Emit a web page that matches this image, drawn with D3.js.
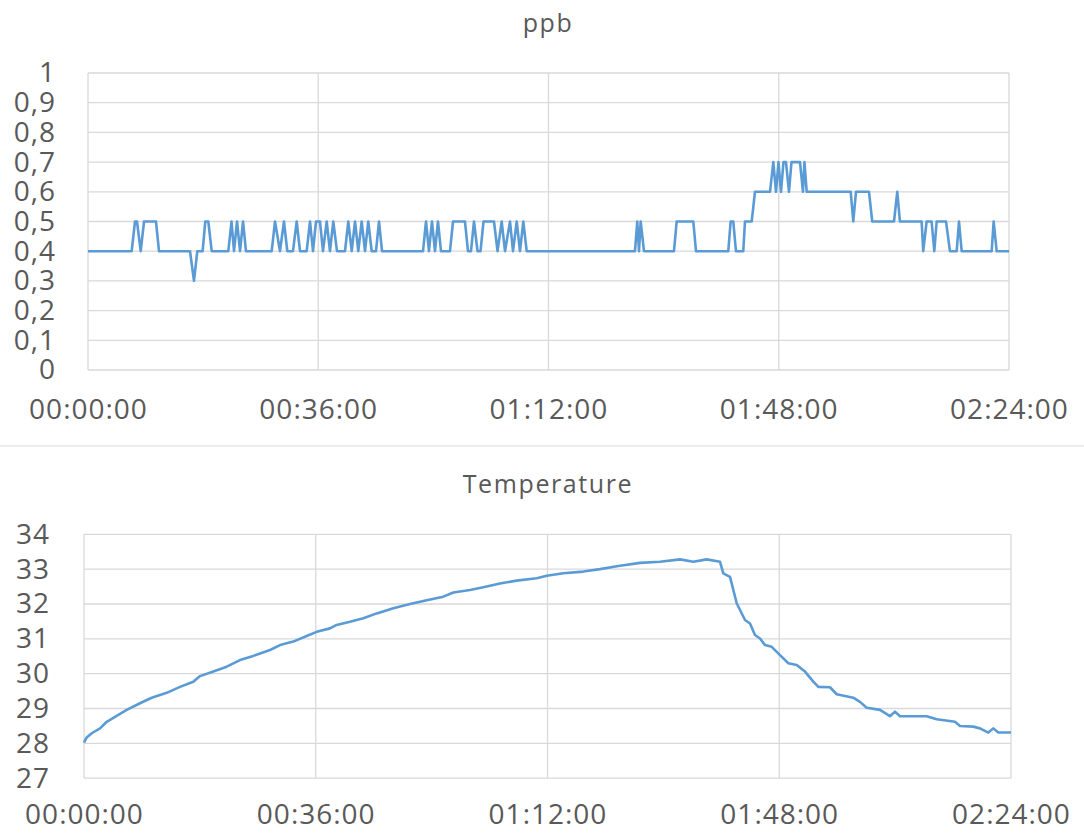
<!DOCTYPE html>
<html><head><meta charset="utf-8">
<script src="https://cdn.jsdelivr.net/npm/d3@7"></script>
<style>
body{margin:0;background:#fff;}
svg text{font-family:'Open Sans',sans-serif;fill:#595959;}
</style>
</head><body>
<svg id="c" width="1084" height="837"></svg>
<script>
// ---- data ----
const timeTicks = [0, 36, 72, 108, 144];               // minutes
const timeTickLabels = ["00:00:00", "00:36:00", "01:12:00", "01:48:00", "02:24:00"];
const ppbTicks = [0, 0.1, 0.2, 0.3, 0.4, 0.5, 0.6, 0.7, 0.8, 0.9, 1];
const tempTicks = [27, 28, 29, 30, 31, 32, 33, 34];

const ppbMinutes = [0, 6.83, 7.35, 7.66, 8.24, 8.76, 10.63, 11.10, 15.95, 16.57, 17.09, 17.92, 18.34, 18.81, 19.34,
  21.94, 22.44, 22.83, 23.30, 23.77, 24.24, 24.70, 28.72, 29.24, 30.02, 30.64, 31.16, 32.05, 32.63, 33.15,
  34.19, 34.71, 35.18, 35.65, 36.27, 36.74, 37.32, 37.83, 38.35, 38.93, 40.18, 40.70, 41.23, 41.75, 42.26,
  42.79, 43.31, 43.82, 44.35, 45.03, 45.50, 45.97, 52.38, 52.85, 53.31, 53.78, 54.25, 54.72, 55.19, 56.60,
  57.07, 58.94, 59.41, 59.88, 60.35, 60.90, 61.37, 61.84, 63.48, 64.03, 64.68, 65.20, 65.98, 66.45, 67.03,
  67.54, 68.06, 68.59, 85.52, 85.88, 86.15, 86.41, 86.93, 91.62, 92.04, 94.64, 95.06, 100.11, 100.48, 100.89,
  101.31, 102.45, 102.72, 103.77, 104.28, 106.63, 107.15, 107.57, 107.96, 108.35, 108.74, 109.13, 109.60,
  109.99, 111.32, 111.79, 112.02, 112.37, 119.25, 119.65, 120.08, 122.11, 122.62, 126.02, 126.53, 126.95,
  130.34, 130.59, 131.12, 131.90, 132.32, 132.69, 134.15, 134.77, 135.82, 136.18, 136.60, 141.29, 141.60,
  142.07, 144];
const ppbValues = [0.4, 0.4, 0.5, 0.5, 0.4, 0.5, 0.5, 0.4, 0.4, 0.3, 0.4, 0.4, 0.5, 0.5, 0.4,
  0.4, 0.5, 0.4, 0.5, 0.4, 0.5, 0.4, 0.4, 0.5, 0.4, 0.5, 0.4, 0.4, 0.5, 0.4,
  0.4, 0.5, 0.4, 0.5, 0.5, 0.4, 0.5, 0.4, 0.5, 0.4, 0.4, 0.5, 0.4, 0.5, 0.4,
  0.5, 0.4, 0.5, 0.4, 0.4, 0.5, 0.4, 0.4, 0.5, 0.4, 0.5, 0.4, 0.5, 0.4, 0.4,
  0.5, 0.5, 0.4, 0.4, 0.5, 0.4, 0.4, 0.5, 0.5, 0.4, 0.5, 0.4, 0.5, 0.4, 0.5,
  0.4, 0.5, 0.4, 0.4, 0.5, 0.4, 0.5, 0.4, 0.4, 0.5, 0.5, 0.4, 0.4, 0.5, 0.5,
  0.4, 0.4, 0.5, 0.5, 0.6, 0.6, 0.7, 0.6, 0.7, 0.6, 0.7, 0.7, 0.6,
  0.7, 0.7, 0.6, 0.7, 0.6, 0.6, 0.5, 0.6, 0.6, 0.5, 0.5, 0.6, 0.5,
  0.5, 0.4, 0.5, 0.5, 0.4, 0.5, 0.5, 0.4, 0.4, 0.5, 0.4, 0.4, 0.5,
  0.4, 0.4];

const tempMinutes = [0, 0.42, 1.20, 2.49, 3.53, 4.82, 6.63, 8.70, 10.52, 12.85, 14.91, 16.98, 18.02, 20.09,
  22.17, 24.23, 26.30, 27.34, 28.89, 30.45, 32.51, 34.59, 36.15, 38.21, 39.25, 41.32, 43.39, 45.47, 48.05,
  50.64, 53.24, 55.81, 57.37, 59.96, 62.03, 64.62, 67.22, 70.32, 71.88, 74.45, 77.56, 80.16, 83.00, 86.37,
  89.48, 92.58, 94.65, 96.73, 98.80, 99.31, 100.35, 101.39, 102.68, 103.46, 104.23, 105.01, 105.79, 106.83,
  108.12, 109.41, 110.71, 112.00, 113.29, 114.07, 115.88, 116.92, 119.50, 120.54, 121.58, 123.65, 125.20,
  125.98, 126.76, 130.90, 132.46, 135.30, 136.08, 138.14, 139.18, 140.47, 141.25, 142.03, 144];
const tempValues = [28.02, 28.17, 28.29, 28.43, 28.62, 28.76, 28.96, 29.15, 29.31, 29.45, 29.62, 29.77, 29.93, 30.06,
  30.20, 30.39, 30.51, 30.58, 30.68, 30.82, 30.92, 31.08, 31.20, 31.30, 31.40, 31.49, 31.59, 31.73, 31.88,
  32.00, 32.11, 32.21, 32.33, 32.40, 32.48, 32.59, 32.67, 32.74, 32.81, 32.88, 32.93, 33.00, 33.09, 33.18,
  33.21, 33.28, 33.21, 33.28, 33.21, 32.88, 32.78, 32.02, 31.54, 31.44, 31.11, 31.01, 30.82, 30.77,
  30.53, 30.30, 30.25, 30.06, 29.77, 29.62, 29.61, 29.41, 29.31, 29.19, 29.02, 28.96, 28.78,
  28.91, 28.78, 28.78, 28.69, 28.62, 28.50, 28.48, 28.43, 28.31, 28.43, 28.31, 28.31];

// ---- drawing ----
const svg = d3.select("#c");
const locale = d3.formatLocale({decimal: ",", thousands: ".", grouping: [3], currency: ["", ""]});
const fmtPpb = locale.format(".1~f");
const fmtTemp = locale.format("d");
const lineColor = "#5b9bd5";
const gridColor = "#d9d9d9";

function drawChart(cfg) {
  const x = d3.scaleLinear().domain([0, 144]).range([cfg.left, cfg.right]);
  const y = d3.scaleLinear().domain(cfg.yDomain).range([cfg.bottom, cfg.top]);
  const g = svg.append("g");

  // horizontal gridlines
  g.append("g").selectAll("line").data(cfg.yTicks).join("line")
    .attr("x1", cfg.left).attr("x2", cfg.right)
    .attr("y1", d => y(d)).attr("y2", d => y(d))
    .attr("stroke", gridColor).attr("stroke-width", 1.3);
  // vertical gridlines
  g.append("g").selectAll("line").data(timeTicks).join("line")
    .attr("x1", d => x(d)).attr("x2", d => x(d))
    .attr("y1", cfg.top).attr("y2", cfg.bottom)
    .attr("stroke", gridColor).attr("stroke-width", 1.3);

  // y axis labels
  const yAxis = d3.axisLeft(y).tickValues(cfg.yTicks).tickFormat(cfg.fmt).tickSize(0).tickPadding(cfg.yPad);
  const ya = g.append("g").attr("transform", `translate(${cfg.left},0)`).call(yAxis);
  ya.select(".domain").remove();
  ya.selectAll("text").attr("font-size", cfg.tickSize).attr("font-family", null)
    .attr("letter-spacing", 1).attr("fill", "#595959");

  // x axis labels
  const xAxis = d3.axisBottom(x).tickValues(timeTicks).tickFormat((d, i) => timeTickLabels[i]).tickSize(0).tickPadding(cfg.xPad);
  const xa = g.append("g").attr("transform", `translate(0,${cfg.bottom})`).call(xAxis);
  xa.select(".domain").remove();
  xa.selectAll("text").attr("font-size", cfg.tickSize).attr("font-family", null)
    .attr("letter-spacing", 1).attr("fill", "#595959");

  // title
  g.append("text").attr("x", cfg.titleX).attr("y", cfg.titleY)
    .attr("text-anchor", "middle").attr("dominant-baseline", "central")
    .attr("letter-spacing", 1.6)
    .attr("font-size", cfg.titleSize).text(cfg.title);

  // series line
  const pts = cfg.xs.map((t, i) => [t, cfg.ys[i]]);
  g.append("path").datum(pts)
    .attr("fill", "none").attr("stroke", lineColor).attr("stroke-width", 2.6)
    .attr("stroke-linejoin", "round")
    .attr("d", d3.line().x(d => x(d[0])).y(d => y(d[1])));
}

drawChart({
  left: 88, right: 1009, top: 73, bottom: 370,
  yDomain: [0, 1], yTicks: ppbTicks, fmt: fmtPpb,
  xs: ppbMinutes, ys: ppbValues,
  title: "ppb", titleX: 548, titleY: 22, titleSize: 25,
  tickSize: 28, yPad: 32, xPad: 29
});

drawChart({
  left: 84, right: 1011, top: 534.3, bottom: 778.2,
  yDomain: [27, 34], yTicks: tempTicks, fmt: fmtTemp,
  xs: tempMinutes, ys: tempValues,
  title: "Temperature", titleX: 548, titleY: 483, titleSize: 25,
  tickSize: 28, yPad: 34, xPad: 26
});

// separator between the two chart objects
svg.append("line").attr("x1", 0).attr("x2", 1084).attr("y1", 446).attr("y2", 446)
  .attr("stroke", gridColor).attr("stroke-width", 1);
</script>
</body></html>
